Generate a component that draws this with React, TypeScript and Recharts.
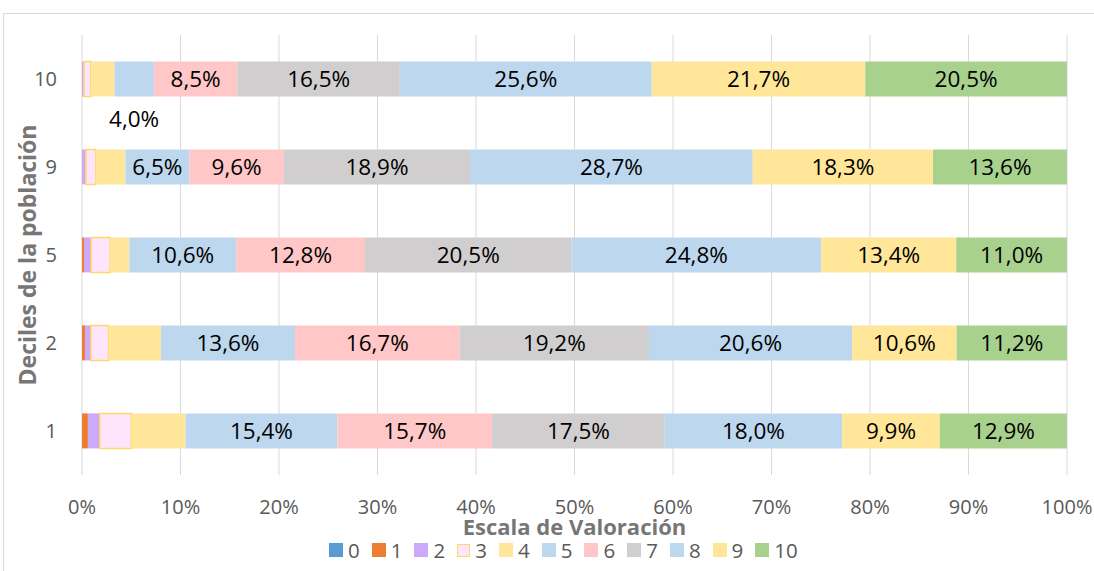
import { BarChart, Bar, XAxis, YAxis, CartesianGrid, LabelList } from 'recharts'

const deciles = ['10', '9', '5', '2', '1']
const s0 = [0, 0, 0, 0, 0]
const s1 = [0, 0, 0.2, 0.3, 0.6]
const s2 = [0.2, 0.4, 0.7, 0.6, 1.2]
const s3 = [0.7, 1.0, 1.9, 1.8, 3.2]
const s4 = [2.4, 3.0, 1.9, 5.3, 5.5]
const s5 = [4.0, 6.5, 10.6, 13.6, 15.4]
const s6 = [8.5, 9.6, 12.8, 16.7, 15.7]
const s7 = [16.5, 18.9, 20.5, 19.2, 17.5]
const s8 = [25.6, 28.7, 24.8, 20.6, 18.0]
const s9 = [21.7, 18.3, 13.4, 10.6, 9.9]
const s10 = [20.5, 13.6, 11.0, 11.2, 12.9]
const xTicks = [0, 10, 20, 30, 40, 50, 60, 70, 80, 90, 100]

const series = [
  { name: '0', values: s0, fill: '#5b9bd5', labeled: false },
  { name: '1', values: s1, fill: '#ed7d31', labeled: false },
  { name: '2', values: s2, fill: '#ccaaf9', labeled: false },
  { name: '3', values: s3, fill: '#ffe5fc', stroke: '#ffd966', labeled: false },
  { name: '4', values: s4, fill: '#ffe699', labeled: false },
  { name: '5', values: s5, fill: '#bdd7ee', labeled: true },
  { name: '6', values: s6, fill: '#ffc7c7', labeled: true },
  { name: '7', values: s7, fill: '#d0cece', labeled: true },
  { name: '8', values: s8, fill: '#bdd7ee', labeled: true },
  { name: '9', values: s9, fill: '#ffe699', labeled: true },
  { name: '10', values: s10, fill: '#a9d18e', labeled: true },
]

const rows = deciles.map((d, i) => {
  const row: Record<string, string | number> = { decil: d }
  series.forEach((s) => {
    row['v' + s.name] = s.values[i]
  })
  return row
})

const FONT = '"Open Sans", sans-serif'
const fmt = (v: number) => v.toFixed(1).replace('.', ',') + '%'

function SegmentLabel(props: any, values: number[]) {
  const vb = props.viewBox || {}
  const x = Number(props.x ?? vb.x)
  const y = Number(props.y ?? vb.y)
  const width = Number(props.width ?? vb.width)
  const height = Number(props.height ?? vb.height)
  const idx = props.index
  const v = typeof idx === 'number' ? values[idx] : Number(props.value)
  if (!v) return null
  // too narrow to hold the text: put it under the bar
  const below = width < 50
  return (
    <text
      x={x + width / 2}
      y={below ? y + height + 22 : y + height / 2}
      textAnchor="middle"
      dominantBaseline="central"
      fontFamily={FONT}
      fontSize={22.5}
      fill="#000"
    >
      {fmt(v)}
    </text>
  )
}

export default function App() {
  return (
    <div
      style={{
        position: 'fixed',
        left: 0,
        top: 0,
        width: 1094,
        height: 571,
        overflow: 'hidden',
        background: '#fff',
        fontFamily: FONT,
      }}
    >
      <div
        style={{
          position: 'absolute',
          left: 3,
          top: 13,
          width: 1200,
          height: 700,
          border: '1.5px solid #d9d9d9',
        }}
      />
      <div style={{ position: 'absolute', left: 0, top: 0 }}>
        <BarChart
          width={1094}
          height={571}
          data={rows}
          layout="vertical"
          stackOffset="expand"
          barCategoryGap="30%"
          margin={{ top: 35, right: 27, bottom: 66, left: 0 }}
          style={{ fontFamily: FONT }}
        >
          <CartesianGrid horizontal={false} stroke="#d9d9d9" />
          <XAxis
            type="number"
            domain={[0, 1]}
            ticks={xTicks.map((t) => t / 100)}
            tickFormatter={(v: number) => `${Math.round(v * 100)}%`}
            axisLine={false}
            tickLine={false}
            tickSize={0}
            tickMargin={25}
            height={30}
            tick={{ fill: '#595959', fontSize: 20, fontFamily: FONT }}
            label={{
              value: 'Escala de Valoración',
              position: 'bottom',
              offset: 14,
              fill: '#767676',
              fontSize: 22,
              fontWeight: 700,
              fontFamily: FONT,
            }}
          />
          <YAxis
            type="category"
            dataKey="decil"
            width={82}
            axisLine={false}
            tickLine={false}
            tickSize={0}
            tickMargin={25}
            tick={{ fill: '#595959', fontSize: 20, fontFamily: FONT }}
            label={{
              value: 'Deciles de la población',
              angle: -90,
              position: 'insideLeft',
              offset: 28,
              fill: '#767676',
              fontSize: 23,
              fontWeight: 700,
              fontFamily: FONT,
              style: { textAnchor: 'middle' },
            }}
          />
          {series.map((s) => (
            <Bar
              key={s.name}
              dataKey={'v' + s.name}
              name={s.name}
              stackId="a"
              fill={s.fill}
              stroke={s.stroke}
              strokeWidth={s.stroke ? 1.5 : 0}
              isAnimationActive={false}
            >
              {s.labeled && (
                <LabelList
                  dataKey={'v' + s.name}
                  content={(p: any) => SegmentLabel(p, s.values)}
                />
              )}
            </Bar>
          ))}
        </BarChart>
      </div>
      <div
        style={{
          position: 'absolute',
          left: 329,
          top: 538,
          display: 'flex',
          alignItems: 'center',
          fontSize: 20.5,
          color: '#595959',
          lineHeight: '24px',
        }}
      >
        {series.map((s) => (
          <div key={s.name} style={{ display: 'flex', alignItems: 'center', marginRight: 12 }}>
            <span
              style={{
                display: 'inline-block',
                width: s.stroke ? 11 : 14,
                height: s.stroke ? 11 : 14,
                background: s.fill,
                border: s.stroke ? `1.5px solid ${s.stroke}` : 'none',
                marginRight: 5,
              }}
            />
            <span>{s.name}</span>
          </div>
        ))}
      </div>
    </div>
  )
}
